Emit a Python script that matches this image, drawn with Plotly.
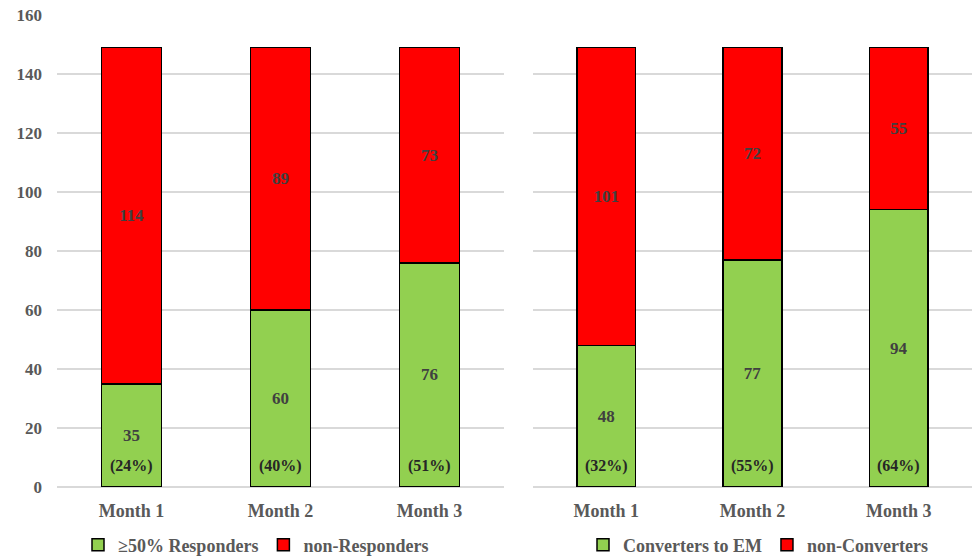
import plotly.graph_objects as go

months = ["Month 1", "Month 2", "Month 3"]
responders = [35, 60, 76]
non_responders = [114, 89, 73]
responder_pct = ["(24%)", "(40%)", "(51%)"]
converters = [48, 77, 94]
non_converters = [101, 72, 55]
converter_pct = ["(32%)", "(55%)", "(64%)"]

GREEN = "#92D050"
RED = "#FF0000"
FONT = "Liberation Serif"
LABEL_COLOR = "#404040"
TICK_COLOR = "#595959"

fig = go.Figure()

def add_bars(vals, name, color, xa, ya, legend):
    fig.add_trace(go.Bar(
        x=months, y=vals, name=name, xaxis=xa, yaxis=ya, legend=legend,
        marker=dict(color=color, line=dict(color="black", width=1.5)),
        text=[str(v) for v in vals], textposition="inside",
        insidetextanchor="middle", textangle=0,
        textfont=dict(family=FONT, size=17, color=LABEL_COLOR, weight="bold"),
        hoverinfo="skip",
    ))

add_bars(responders, "≥50% Responders", GREEN, "x", "y", "legend")
add_bars(non_responders, "non-Responders", RED, "x", "y", "legend")
add_bars(converters, "Converters to EM", GREEN, "x2", "y2", "legend2")
add_bars(non_converters, "non-Converters", RED, "x2", "y2", "legend2")

for xa, ya, pcts in (("x", "y", responder_pct), ("x2", "y2", converter_pct)):
    for m, p in zip(months, pcts):
        fig.add_annotation(x=m, y=7, xref=xa, yref=ya, text=p, showarrow=False,
                           font=dict(family=FONT, size=16, color="#262626", weight="bold"))

H = 558
ytop = 1 - 15 / H
ybot = 1 - 487 / H

axis_common = dict(showgrid=False, showline=False, zeroline=False, ticks="",
                   tickfont=dict(family=FONT, size=18, color=TICK_COLOR, weight="bold"),
                   ticklabelstandoff=11)
yaxis_common = dict(range=[0, 160], dtick=20, showgrid=True, gridcolor="#D9D9D9",
                    gridwidth=1.5, zeroline=True, zerolinecolor="#D9D9D9", zerolinewidth=1.5,
                    showline=False, ticks="")

fig.update_layout(
    width=975, height=558,
    margin=dict(l=0, r=0, t=0, b=0, autoexpand=False),
    paper_bgcolor="white", plot_bgcolor="white",
    barmode="stack", bargap=0.6,
    showlegend=True,
    xaxis=dict(domain=[57 / 975, 504 / 975], anchor="y", **axis_common),
    yaxis=dict(domain=[ybot, ytop], anchor="x",
               tickfont=dict(family=FONT, size=17, color=TICK_COLOR, weight="bold"),
               ticklabelstandoff=14, **yaxis_common),
    xaxis2=dict(domain=[533 / 975, 972 / 975], anchor="y2", **axis_common),
    yaxis2=dict(domain=[ybot, ytop], anchor="x2", showticklabels=False, **yaxis_common),
    legend=dict(orientation="h", x=78 / 975, xanchor="left", y=1 - 545 / H, yanchor="middle",
                font=dict(family=FONT, size=18, color=TICK_COLOR, weight="bold"),
                itemwidth=30, bgcolor="rgba(0,0,0,0)", traceorder="normal"),
    legend2=dict(orientation="h", x=583 / 975, xanchor="left", y=1 - 545 / H, yanchor="middle",
                 font=dict(family=FONT, size=18, color=TICK_COLOR, weight="bold"),
                 itemwidth=30, bgcolor="rgba(0,0,0,0)", traceorder="normal"),
)

fig.write_html("out.html")
